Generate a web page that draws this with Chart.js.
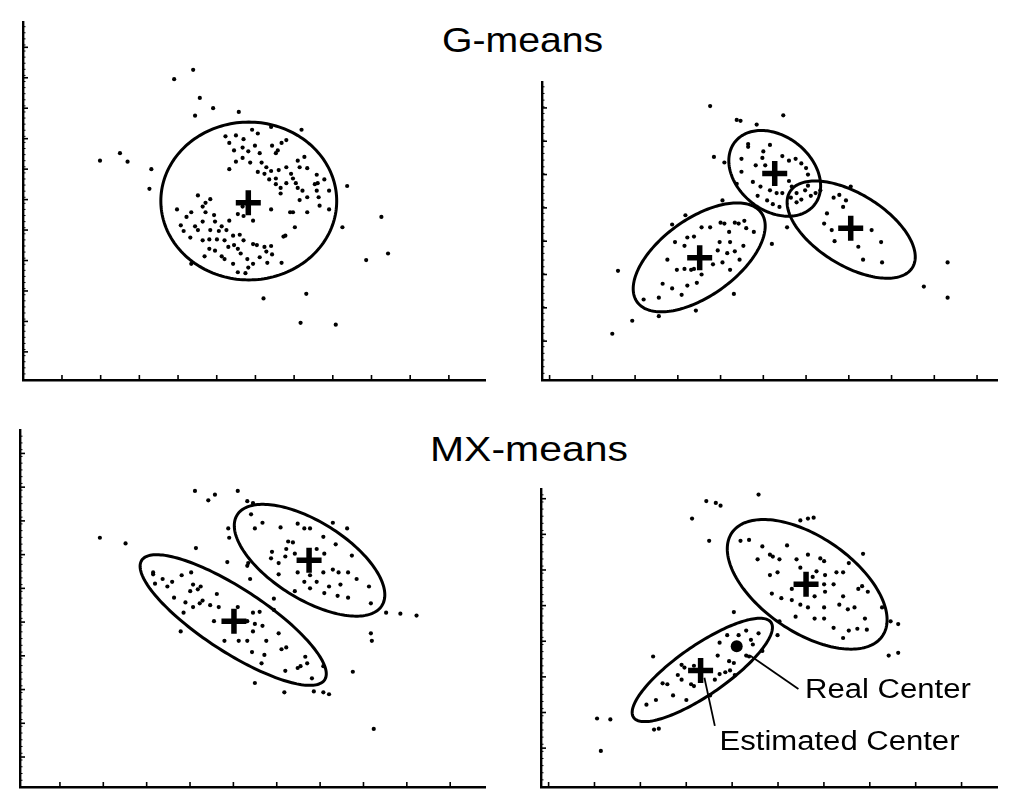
<!DOCTYPE html>
<html>
<head>
<meta charset="utf-8">
<script src="https://cdn.jsdelivr.net/npm/chart.js@4.4.1/dist/chart.umd.min.js"></script>
<style>
body { margin:0; background:#fff; width:1009px; height:801px; position:relative; overflow:hidden; }
canvas { position:absolute; }
.title { position:absolute; font-family:'Liberation Sans', Arial, sans-serif; font-size:35px; line-height:35px; color:#000; transform-origin:left top; white-space:nowrap; }
</style>
</head>
<body>
<div class="title" style="left:442px;top:22px;transform:scaleX(1.12)">G-means</div>
<div class="title" style="left:430px;top:431px;transform:scaleX(1.17)">MX-means</div>
<canvas id="gLeft"></canvas>
<canvas id="gRight"></canvas>
<canvas id="mxLeft"></canvas>
<canvas id="mxRight"></canvas>
<script>
// ---- G-means, one cluster ----
const gLeftPoints = [
  [17.9,33.1],[15.9,32.1],[18.6,30.1],[20.0,29.0],[18.1,28.2],[22.7,28.6],[29.3,26.7],[8.1,23.4],
  [10.2,24.2],[11.0,23.3],[13.5,22.5],[13.3,20.4],[34.1,20.7],[37.7,17.4],[33.6,16.3],[38.4,13.5],
  [36.1,12.8],[25.3,8.7],[29.8,9.2],[29.2,6.1],[32.9,5.9],[17.7,12.4],
  [21.3,26.0],[22.4,26.1],[23.2,25.7],[24.1,26.7],[24.7,26.3],[26.1,27.0],[21.7,25.3],[22.2,24.5],
  [23.1,24.8],[24.4,25.0],[23.7,24.4],[24.9,24.2],[26.2,25.0],[26.8,24.5],[27.7,25.6],[27.2,25.3],
  [26.6,24.2],[22.4,23.3],[23.1,23.7],[23.9,23.2],[25.1,23.2],[25.6,22.7],[24.7,22.2],[25.4,22.0],
  [26.1,22.3],[26.9,22.4],[27.7,22.7],[28.9,23.4],[29.6,23.8],[29.1,22.7],[29.9,22.6],[21.7,22.5],
  [25.9,21.4],[26.6,20.9],[27.1,20.5],[27.7,21.0],[28.4,21.5],[28.7,21.0],[28.9,20.5],[28.2,22.0],
  [30.9,21.9],[31.7,21.4],[30.7,20.9],[30.9,20.2],[32.2,20.2],[31.1,19.5],[31.2,18.6],[32.2,18.2],
  [27.1,19.9],[29.1,19.2],[29.9,19.5],[31.0,21.0],[28.1,17.9],[28.4,17.9],[29.9,17.9],[26.1,18.2],
  [28.6,16.3],[27.4,15.3],[29.4,20.2],[26.6,21.5],
  [18.4,19.7],[19.2,18.9],[19.7,19.3],[18.9,18.5],[16.2,18.2],[17.7,17.9],[19.2,17.9],[20.1,17.6],
  [17.2,17.4],[16.6,16.5],[18.1,16.4],[18.4,16.0],[18.9,16.9],[20.2,16.9],[20.9,16.4],[21.7,17.0],
  [21.4,16.0],[20.6,15.9],[19.7,16.0],[17.6,15.2],[18.9,14.9],[16.9,15.9],[19.6,15.0],[20.4,15.0],
  [21.2,14.9],[22.1,15.4],[22.8,15.5],[23.2,14.9],[22.2,14.4],[21.6,14.2],[22.6,14.0],[19.6,14.0],
  [20.2,13.8],[20.9,13.2],[19.1,13.2],[21.2,12.9],[22.1,12.4],[22.9,13.5],[23.6,12.9],[24.2,14.5],
  [24.6,14.4],[25.4,14.2],[26.1,14.3],[25.6,13.7],[24.9,13.1],[24.2,12.4],[23.7,12.0],[22.6,11.5],
  [23.4,11.4],[25.7,12.5],[26.2,13.4],[27.2,12.5],[24.2,17.0],[23.2,17.5],[23.1,18.5],[27.6,15.4],
  [22.6,17.7]
];
const gLeftCenters = [[23.7,18.9]];
// ellipse rows: centre x, centre y, semi-major, semi-minor, angle (deg)
const gLeftEllipses = [[23.75,19.1,9.25,8.42,0]];

// ---- G-means, split into three ----
const gRightPoints = [
  [17.7,29.6],[20.5,28.1],[20.9,28.0],[22.6,27.6],[25.4,28.6],[18.1,24.1],[19.2,23.5],[19.0,19.4],
  [15.1,17.8],[13.7,16.8],[8.0,11.8],[9.5,6.4],[7.4,5.0],[16.2,7.5],[20.2,9.3],[24.2,14.7],
  [25.8,16.5],[42.7,12.7],[40.2,10.1],[42.7,8.9],[21.7,25.5],
  [21.7,25.2],[23.3,24.7],[24.0,25.4],[23.2,24.0],[22.5,23.2],[25.3,24.2],[26.0,23.7],[26.7,23.9],
  [27.3,23.4],[27.8,22.9],[28.0,22.2],[23.5,23.2],[21.0,22.5],[22.2,21.4],[23.0,20.9],[24.0,20.5],
  [24.7,20.2],[25.3,20.2],[23.7,19.4],[24.3,19.0],[25.0,18.7],[26.0,21.5],[22.7,19.9],[26.3,20.9],
  [26.8,20.2],[27.7,20.5],[28.3,19.9],[28.0,21.0],[27.3,19.5],[28.8,20.2],[26.8,19.2],[26.2,19.7],
  [21.0,23.9],[20.5,21.2],
  [29.3,20.5],[30.7,19.7],[31.3,20.0],[32.0,19.4],[32.5,20.9],[31.7,18.7],[29.7,16.9],[30.5,16.2],
  [30.8,15.0],[33.3,14.4],[33.8,13.0],[35.7,14.9],[35.8,12.7],[34.7,16.2],[30.0,18.0],
  [20.3,17.0],[20.7,16.9],[18.8,17.0],[19.2,16.9],[21.3,17.2],[21.5,16.4],[22.3,16.0],[19.7,16.0],
  [16.8,16.5],[17.7,16.5],[16.0,15.5],[15.3,15.4],[14.0,14.9],[15.0,14.5],[18.5,14.0],[19.5,13.7],
  [20.3,13.9],[19.8,14.9],[18.7,14.9],[21.2,14.5],[13.2,13.0],[14.2,11.9],[15.0,12.0],[15.7,11.9],
  [16.0,12.0],[16.8,11.4],[18.0,12.5],[19.0,12.7],[19.8,11.9],[20.8,13.0],[12.7,10.4],[12.3,8.9],
  [10.7,8.7],[14.7,9.2],[15.3,10.2],[16.3,10.5],[13.7,9.9],[12.3,6.9]
];
const gRightCenters = [[24.5,22.3],[32.5,16.4],[16.6,13.2]];
const gRightEllipses = [
  [24.5,22.33,5.39,3.97,-40.9],
  [32.55,16.25,7.64,3.84,-32.9],
  [16.55,13.25,8.12,4.12,36.9]
];

// ---- MX-means, two clusters ----
const mxLeftPoints = [
  [18.4,31.6],[19.8,30.6],[20.5,31.2],[22.9,31.6],[8.4,26.6],[11.1,26.0],[18.5,25.5],[21.8,24.0],
  [23.9,30.5],[24.5,30.3],[21.9,27.6],[22.0,26.6],[24.0,23.9],[23.9,23.6],[24.2,22.2],[26.7,20.1],
  [38.5,18.6],[40.0,18.5],[41.7,18.3],[36.9,16.4],[37.0,15.6],[35.0,12.3],[37.2,6.2],[24.7,11.1],
  [27.8,10.1],[30.9,10.2],[31.9,10.1],[32.5,9.9],[16.9,16.6],[14.0,22.9],
  [24.3,29.1],[25.5,28.2],[24.7,27.6],[27.4,27.7],[29.2,28.1],[29.9,27.6],[30.5,27.6],[32.9,28.2],
  [34.4,27.6],[31.9,26.7],[28.2,26.2],[28.7,26.1],[28.0,25.4],[26.5,25.1],[26.4,24.4],[27.2,23.9],
  [27.9,24.6],[28.9,24.9],[31.2,25.4],[32.0,24.9],[33.2,25.9],[34.9,24.7],[32.9,23.2],[33.5,22.9],
  [34.5,22.9],[31.9,22.9],[30.5,22.6],[29.2,22.9],[29.9,21.9],[31.2,21.9],[32.5,21.4],[33.7,21.6],
  [30.5,21.2],[28.9,20.9],[32.0,20.7],[33.4,20.4],[34.5,20.2],[36.7,21.4],[36.9,19.6],[35.4,22.2],
  [27.2,22.7],
  [14.0,22.7],[15.0,22.2],[14.2,21.7],[16.0,21.9],[17.0,22.6],[18.0,22.9],[18.2,21.6],[18.7,21.1],
  [19.0,21.4],[17.9,20.9],[15.5,21.4],[16.2,20.2],[17.4,19.7],[18.9,19.6],[20.0,19.4],[20.9,19.2],
  [17.2,18.6],[18.2,19.2],[19.2,19.9],[20.7,20.6],[22.9,19.2],[24.5,18.6],[25.2,18.7],[23.9,17.7],
  [24.7,17.4],[25.5,17.2],[24.5,16.6],[21.5,15.6],[23.0,15.6],[23.9,15.6],[24.4,14.4],[25.9,15.6],
  [25.7,14.1],[27.2,16.4],[27.5,14.7],[28.0,14.9],[25.4,13.2],[27.9,12.4],[29.2,12.7],[29.5,12.9],
  [30.0,13.9],[30.2,13.2],[30.7,11.6],[31.9,12.9],[20.4,17.7],[26.7,18.9]
];
const mxLeftCenters = [[30.4,24.2],[22.5,17.7]];
const mxLeftEllipses = [
  [30.45,24.2,9.02,4.11,-32.6],
  [22.42,17.82,11.54,3.36,-33.6]
];

// ---- MX-means, two clusters with the real centre marked ----
const mxRightPoints = [
  [16.6,32.5],[22.9,31.6],[17.4,30.9],[18.4,30.7],[18.9,30.4],[15.9,29.0],[17.7,26.6],[27.3,28.8],
  [28.1,29.0],[28.7,29.1],[20.3,18.9],[24.9,16.4],[11.8,14.1],[5.9,7.4],[7.3,7.3],[6.3,3.9],
  [11.9,6.2],[12.4,6.3],[36.8,17.9],[37.6,17.6],[36.6,14.2],[37.6,14.5],[33.9,25.2],[35.9,19.4],
  [21.0,26.6],[21.9,26.7],[23.3,26.0],[24.1,25.1],[24.4,24.9],[25.1,24.6],[25.9,26.1],[22.8,24.6],
  [24.9,23.2],[24.1,22.9],[26.9,24.6],[28.1,25.1],[29.4,24.7],[29.8,24.4],[27.3,23.7],[29.0,23.3],
  [28.6,22.7],[29.9,22.9],[30.8,21.9],[31.8,23.2],[32.4,24.2],[31.1,23.2],[33.4,21.4],[33.8,21.7],
  [34.4,21.1],[29.8,21.9],[29.9,21.1],[26.4,21.4],[25.3,20.4],[24.3,20.9],[27.3,19.7],[28.1,19.4],
  [28.8,20.6],[29.8,19.4],[31.4,19.7],[32.3,19.2],[31.8,20.6],[33.0,19.4],[34.1,18.2],[28.8,18.2],
  [29.8,18.2],[30.8,17.2],[32.4,16.9],[33.3,17.1],[34.3,17.0],[31.8,16.1],[26.8,18.4],[26.4,20.2],
  [25.1,17.9],
  [19.6,16.4],[20.8,16.4],[21.6,16.9],[22.9,16.6],[22.1,15.9],[22.3,15.4],[23.3,14.7],[21.6,14.2],
  [18.8,15.6],[18.6,14.2],[19.8,13.6],[20.3,13.4],[18.8,12.2],[19.4,12.4],[19.9,12.6],[18.3,11.6],
  [20.4,12.1],[14.8,13.2],[15.1,12.9],[14.4,12.1],[14.8,11.6],[15.8,11.1],[16.1,10.9],[12.8,11.2],
  [13.3,11.1],[13.9,9.9],[15.3,9.4],[12.1,9.4],[11.1,8.9],[17.8,9.9],[16.1,13.1],[21.9,14.1]
];
const mxRightCenters = [[27.9,21.9],[16.8,12.6]];
const mxRightRealCenter = [[20.6,15.2]];
const mxRightEllipses = [
  [28.02,21.9,9.69,5.09,-35.7],
  [16.98,12.65,8.87,2.65,35.5]
];
// leader lines: from x, from y, to x, to y
const mxRightLeaders = [[27.1,10.6,22.0,14.2],[18.3,6.6,17.2,11.8]];
const mxRightLabels = [['Real Center',27.8,9.6],['Estimated Center',18.8,4.0]];

// axis tick marks: [start, step] along x and y
const gLeftTicks = [[4.1,4.07],[3.0,3.25]];
const gRightTicks = [[0.8,4.5],[4.2,3.6]];
const mxLeftTicks = [[4.2,4.56],[3.2,3.6]];
const mxRightTicks = [[0.8,4.83],[4.2,3.85]];

// canvas placement: axis left, axis top, axis width, axis height (px)
const PAD = 6;
const boxes = {
  gLeft: [11,10,486,382],
  gRight: [530,70,479,322],
  mxLeft: [8,418,489,381],
  mxRight: [529,477,480,322]
};

function tickValues([start, step], max) {
  const out = [];
  for (let v = start; v <= max + 1e-6; v += step) out.push({ value: v });
  return out;
}

// ellipses, inward tick marks and callouts, all placed through the chart scales
const panelDecor = {
  id: 'panelDecor',
  afterDatasetsDraw(chart, args, opts) {
    const { ctx, chartArea } = chart;
    const xs = chart.scales.x, ys = chart.scales.y;
    ctx.save();
    ctx.strokeStyle = '#000';
    ctx.lineWidth = 3;
    (opts.ellipses || []).forEach(([cx, cy, a, b, deg]) => {
      const r = deg * Math.PI / 180, c = Math.cos(r), s = Math.sin(r);
      ctx.beginPath();
      for (let i = 0; i <= 180; i++) {
        const t = i / 180 * 2 * Math.PI;
        const ex = a * Math.cos(t), ey = b * Math.sin(t);
        const px = xs.getPixelForValue(cx + ex * c - ey * s);
        const py = ys.getPixelForValue(cy + ex * s + ey * c);
        i ? ctx.lineTo(px, py) : ctx.moveTo(px, py);
      }
      ctx.closePath();
      ctx.stroke();
    });

    // major ticks point into the plot, with small minor ticks between them
    ctx.lineWidth = 1.6;
    const xt = xs.ticks, yt = ys.ticks;
    xt.forEach(t => {
      const px = xs.getPixelForValue(t.value);
      ctx.beginPath(); ctx.moveTo(px, chartArea.bottom); ctx.lineTo(px, chartArea.bottom - 5); ctx.stroke();
    });
    yt.forEach(t => {
      const py = ys.getPixelForValue(t.value);
      ctx.beginPath(); ctx.moveTo(chartArea.left, py); ctx.lineTo(chartArea.left + 5, py); ctx.stroke();
    });
    ctx.lineWidth = 1;
    if (yt.length > 1) {
      const step = (yt[1].value - yt[0].value) / 5;
      for (let v = step; v < ys.max; v += step) {
        const py = ys.getPixelForValue(v);
        ctx.beginPath(); ctx.moveTo(chartArea.left, py); ctx.lineTo(chartArea.left + 2.5, py); ctx.stroke();
      }
    }

    ctx.lineWidth = 1.8;
    (opts.leaders || []).forEach(([x1, y1, x2, y2]) => {
      ctx.beginPath();
      ctx.moveTo(xs.getPixelForValue(x1), ys.getPixelForValue(y1));
      ctx.lineTo(xs.getPixelForValue(x2), ys.getPixelForValue(y2));
      ctx.stroke();
    });
    ctx.fillStyle = '#000';
    ctx.font = '27px "Liberation Sans", Arial, sans-serif';
    ctx.textBaseline = 'alphabetic';
    (opts.labels || []).forEach(([text, x, y]) => {
      ctx.save();
      ctx.translate(xs.getPixelForValue(x), ys.getPixelForValue(y));
      ctx.scale(1.15, 1);
      ctx.fillText(text, 0, 0);
      ctx.restore();
    });
    ctx.restore();
  }
};

function makePanel(id, points, centers, ellipses, ticks, extra = {}) {
  const [left, top, w, h] = boxes[id];
  const canvas = document.getElementById(id);
  canvas.width = w + PAD * 2;
  canvas.height = h + PAD * 2;
  canvas.style.left = (left - PAD) + 'px';
  canvas.style.top = (top - PAD) + 'px';

  const xMax = w / 10, yMax = h / 10;
  const axis = (max, tk) => ({
    type: 'linear', min: 0, max,
    ticks: { display: false },
    grid: { display: false, drawTicks: false },
    border: { display: true, color: '#000', width: 2.4 },
    afterBuildTicks: s => { s.ticks = tickValues(tk, max); }
  });

  const datasets = [
    { data: points.map(([x, y]) => ({ x, y })), pointRadius: 2.1, pointBackgroundColor: '#000', pointBorderWidth: 0 },
    { data: centers.map(([x, y]) => ({ x, y })), pointStyle: 'cross', pointRadius: 12.5, pointBorderColor: '#000', pointBorderWidth: 5.5 }
  ];
  if (extra.real) {
    datasets.push({ data: extra.real.map(([x, y]) => ({ x, y })), pointStyle: 'circle', pointRadius: 6, pointBackgroundColor: '#000', pointBorderWidth: 0 });
  }

  new Chart(canvas.getContext('2d'), {
    type: 'scatter',
    data: { datasets },
    options: {
      responsive: false,
      animation: false,
      events: [],
      layout: { padding: PAD },
      scales: { x: axis(xMax, ticks[0]), y: axis(yMax, ticks[1]) },
      plugins: {
        legend: { display: false },
        tooltip: { enabled: false },
        panelDecor: { ellipses, leaders: extra.leaders, labels: extra.labels }
      }
    },
    plugins: [panelDecor]
  });
}

makePanel('gLeft', gLeftPoints, gLeftCenters, gLeftEllipses, gLeftTicks);
makePanel('gRight', gRightPoints, gRightCenters, gRightEllipses, gRightTicks);
makePanel('mxLeft', mxLeftPoints, mxLeftCenters, mxLeftEllipses, mxLeftTicks);
makePanel('mxRight', mxRightPoints, mxRightCenters, mxRightEllipses, mxRightTicks,
  { real: mxRightRealCenter, leaders: mxRightLeaders, labels: mxRightLabels });
</script>
</body>
</html>
